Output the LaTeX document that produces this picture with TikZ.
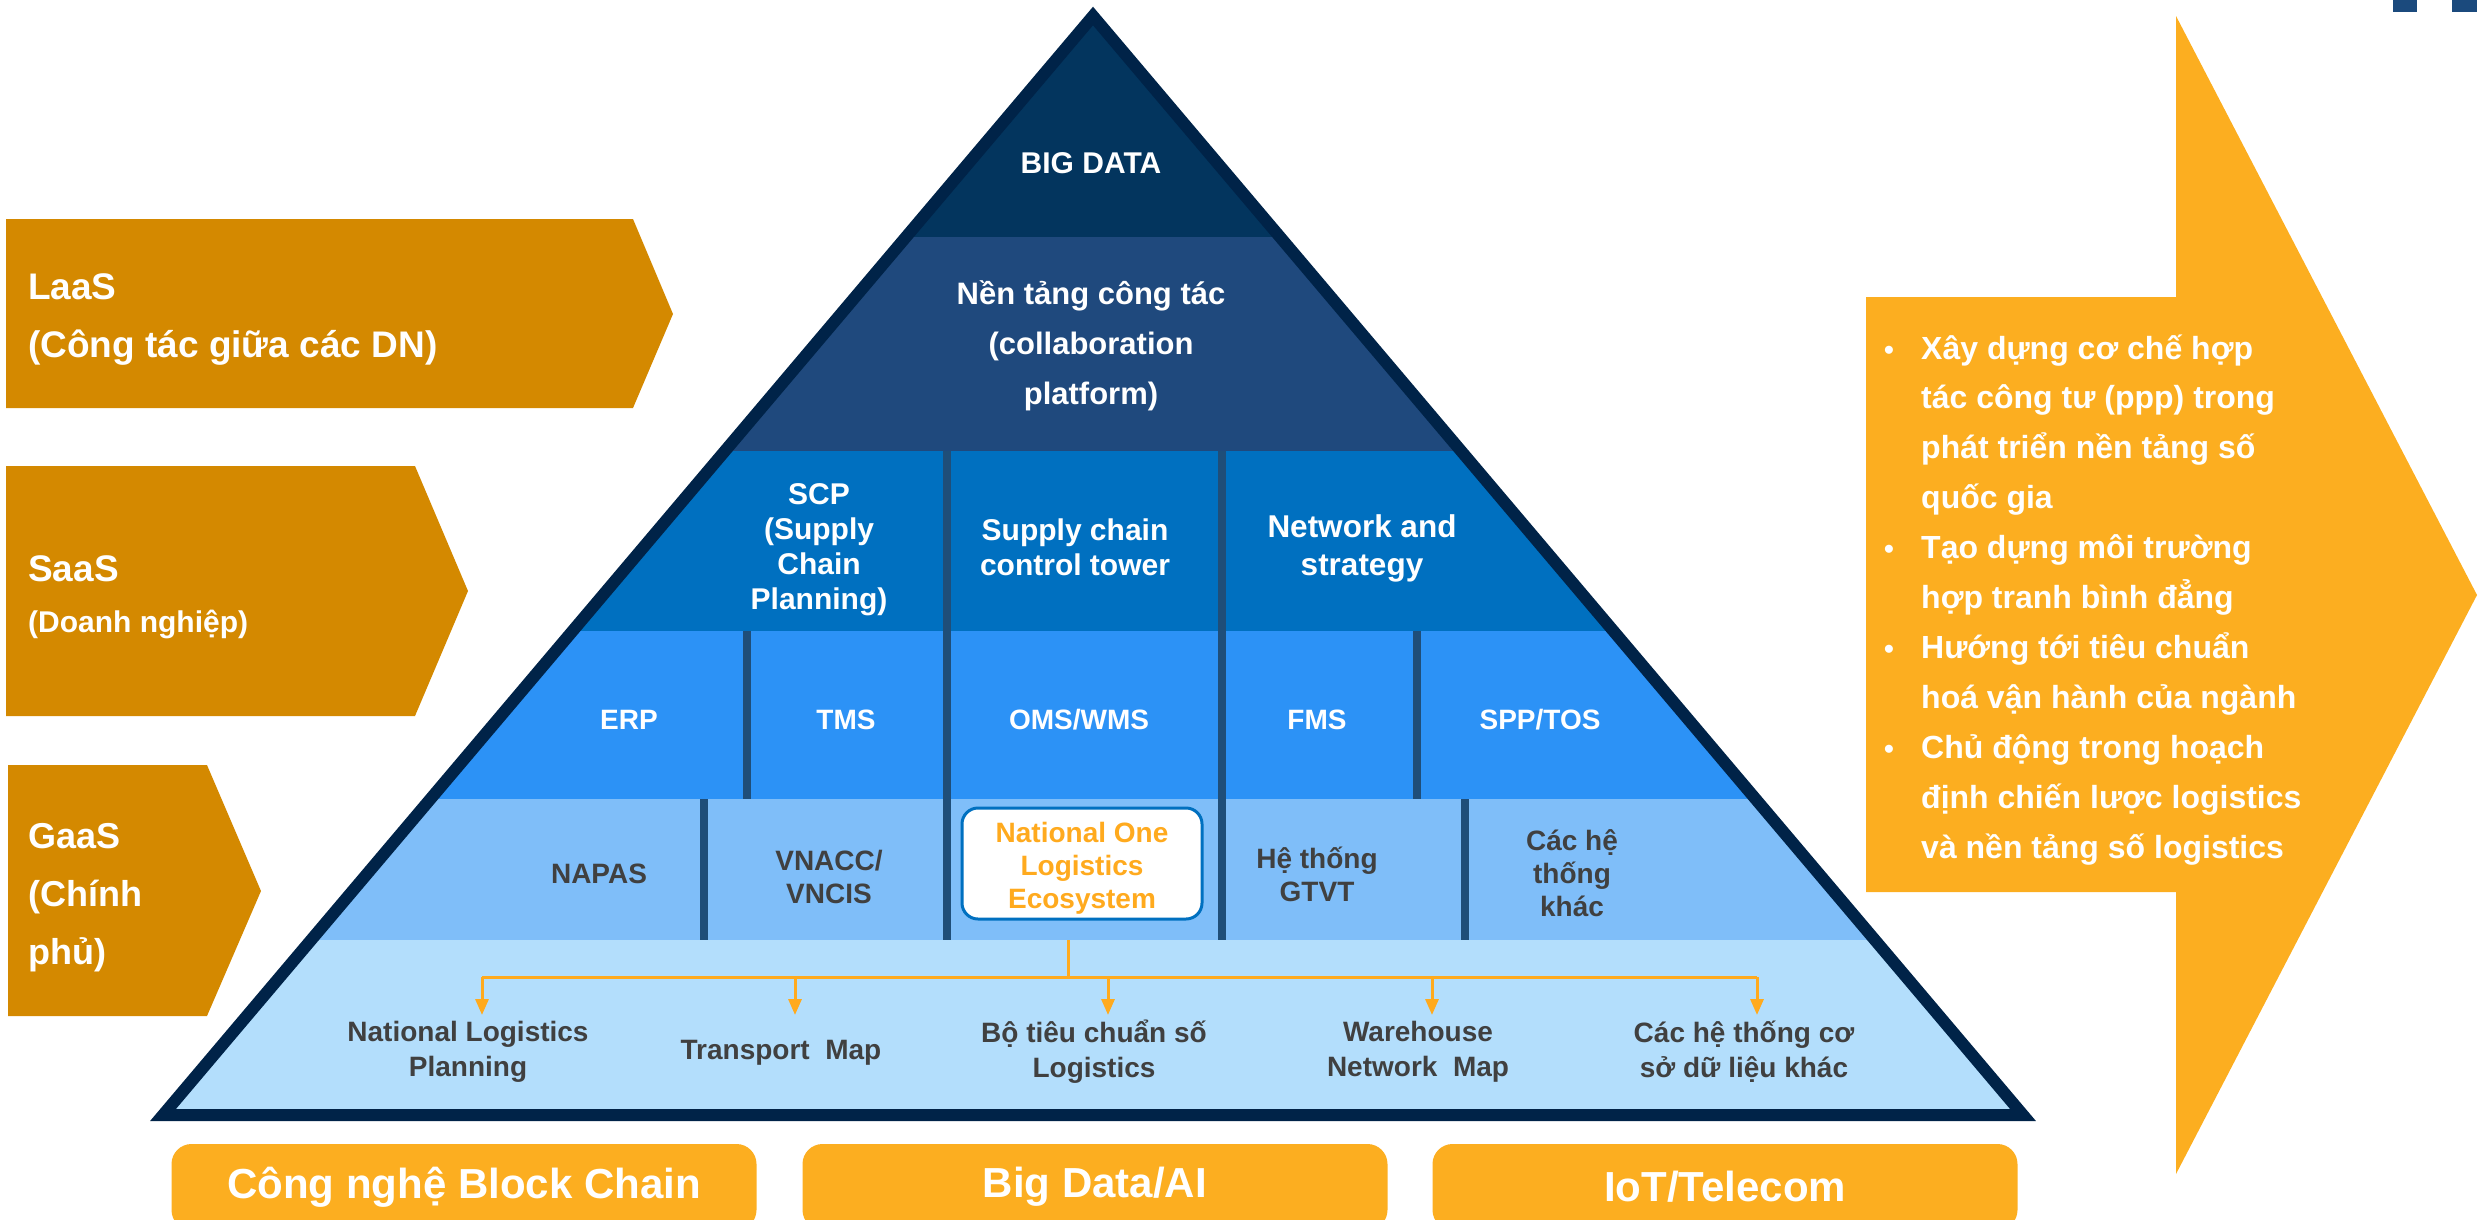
\documentclass[tikz,border=0pt]{standalone}
\usepackage{fontspec}
\setmainfont{Liberation Sans}
\usetikzlibrary{arrows.meta}
\definecolor{lvA}{RGB}{3,53,94}
\definecolor{lvB}{RGB}{31,73,125}
\definecolor{lvC}{RGB}{0,112,192}
\definecolor{lvD}{RGB}{44,146,246}
\definecolor{lvE}{RGB}{127,190,249}
\definecolor{lvF}{RGB}{179,222,252}
\definecolor{rim}{RGB}{0,35,72}
\definecolor{divc}{RGB}{31,78,121}
\definecolor{ochre}{RGB}{212,137,0}
\definecolor{amber}{RGB}{252,174,32}
\definecolor{amtext}{RGB}{255,170,30}
\definecolor{darktxt}{RGB}{64,64,64}
\definecolor{logoc}{RGB}{27,74,125}
\begin{document}
\begin{tikzpicture}[x=1pt,y=-1pt,
  every node/.style={inner sep=0pt},
  fs/.style 2 args={font=\bfseries\fontsize{#1}{#2}\selectfont},
  wl/.style={text=white,align=center},
  dl/.style={text=darktxt,align=center},
  divider/.style={draw=divc,line width=8pt},
  flow/.style={draw=amtext,line width=3pt},
  flowtip/.style={flow,-{Triangle[length=16pt,width=13pt]}},
  tagshape/.style={fill=ochre},
  tagtext/.style={text=white,anchor=base west},
  techbox/.style={fill=amber,rounded corners=20pt,minimum width=585pt,minimum height=86pt,text=white,fs={42}{50}},
  bullettext/.style={text=white,anchor=base west,fs={32}{40}},
]
\useasboundingbox (0,0) rectangle (2479,1219);
\clip (0,0) rectangle (2479,1219);

% logo fragments top right
\fill[logoc] (2393,0) rectangle (2417,12);
\fill[logoc] (2452,0) rectangle (2477,12);

% left tags
\fill[tagshape] (6,219) -- (633,219) -- (673,314) -- (633,408) -- (6,408) -- cycle;
\fill[tagshape] (6,466) -- (415,466) -- (468,591) -- (415,716) -- (6,716) -- cycle;
\fill[tagshape] (8,765) -- (207,765) -- (261,891) -- (207,1016) -- (8,1016) -- cycle;
\node[tagtext,fs={37}{44}] (laas1) at (28,299) {LaaS};
\node[tagtext,fs={37}{44}] (laas2) at (28,357) {(Công tác giữa các DN)};
\node[tagtext,fs={37}{44}] (saas1) at (28,581) {SaaS};
\node[tagtext,fs={30}{36}] (saas2) at (28,632) {(Doanh nghiệp)};
\node[tagtext,fs={36}{44}] (gaas1) at (28,848) {GaaS};
\node[tagtext,fs={36}{44}] (gaas2) at (28,906) {(Chính};
\node[tagtext,fs={36}{44}] (gaas3) at (28,964) {phủ)};

% pyramid
\coordinate (apex) at (1093,16);
\coordinate (bl) at (163,1115);
\coordinate (br) at (2023,1115);
\begin{scope}
  \clip (apex) -- (bl) -- (br) -- cycle;
  \fill[lvA] (0,0) rectangle (2479,237);
  \fill[lvB] (0,237) rectangle (2479,451);
  \fill[lvC] (0,451) rectangle (2479,631);
  \fill[lvD] (0,631) rectangle (2479,799);
  \fill[lvE] (0,799) rectangle (2479,940);
  \fill[lvF] (0,940) rectangle (2479,1200);
\end{scope}

% dividers
\draw[divider] (947,451) -- (947,940);
\draw[divider] (1222,451) -- (1222,940);
\draw[divider] (747,631) -- (747,799);
\draw[divider] (1417,631) -- (1417,799);
\draw[divider] (704,799) -- (704,940);
\draw[divider] (1465,799) -- (1465,940);

% connectors
\coordinate (stem) at (1068,940);
\coordinate (hub) at (1068,977);
\coordinate (h1) at (482,977);
\coordinate (h2) at (795,977);
\coordinate (h3) at (1108,977);
\coordinate (h4) at (1432,977);
\coordinate (h5) at (1757,977);
\coordinate (e1) at (482,1015);
\coordinate (e2) at (795,1015);
\coordinate (e3) at (1108,1015);
\coordinate (e4) at (1432,1015);
\coordinate (e5) at (1757,1015);
\draw[flow] (stem) -- (hub);
\draw[flow] (h1) -- (h5);
\foreach \k in {1,...,5} \draw[flowtip] (h\k) -- (e\k);

% border
\draw[rim,line width=12pt,line join=miter] (apex) -- (bl) -- (br) -- cycle;

% layer texts
\node[wl,fs={30}{36}] (bigdata) at (1091,163) {BIG DATA};
\node[wl,fs={31}{50}] (collab) at (1091,346) {Nền tảng công tác\\(collaboration\\platform)};
\node[wl,fs={30}{35}] (scp) at (819,550) {SCP\\(Supply\\Chain\\Planning)};
\node[wl,fs={30}{35}] (sctower) at (1075,547) {Supply chain\\control tower};
\node[wl,fs={31.5}{38}] (netstr) at (1362,548) {Network and\\strategy};

\node[wl,fs={28}{34}] (erp) at (629,720) {ERP};
\node[wl,fs={28}{34}] (tms) at (846,720) {TMS};
\node[wl,fs={28}{34}] (oms) at (1079,720) {OMS/WMS};
\node[wl,fs={28}{34}] (fms) at (1317,720) {FMS};
\node[wl,fs={28}{34}] (spp) at (1540,720) {SPP/TOS};

\node[dl,fs={28}{34}] (napas) at (599,874) {NAPAS};
\node[dl,fs={28}{33}] (vnacc) at (829,877) {VNACC/\\VNCIS};
\node[draw=lvC,line width=3pt,fill=white,rounded corners=16pt,minimum width=240pt,minimum height=111pt] (nole) at (1082,863.5) {};
\node[align=center,text=amtext,fs={28}{33}] (noletext) at (1082,868) {National One\\Logistics\\Ecosystem};
\node[dl,fs={28}{33}] (gtvt) at (1317,874) {Hệ thống\\GTVT};
\node[dl,fs={28}{33}] (khac) at (1572,873) {Các hệ\\thống\\khác};

\node[dl,fs={28}{35}] (nlp) at (468,1052) {National Logistics\\Planning};
\node[dl,fs={28}{35}] (tmap) at (781,1053) {Transport~~Map};
\node[dl,fs={28}{35}] (bts) at (1094,1052) {Bộ tiêu chuẩn số\\Logistics};
\node[dl,fs={28}{35}] (wnm) at (1418,1052) {Warehouse\\Network~~Map};
\node[dl,fs={28}{35}] (csdl) at (1744,1052) {Các hệ thống cơ\\sở dữ liệu khác};

% bottom technology boxes
\node[techbox] (blockchain) at (464,1187) {Công nghệ Block Chain};
\node[techbox] (bigai) at (1095,1187) {Big Data/AI};
\node[techbox] (iot) at (1725,1187) {IoT/Telecom};

% right arrow
\fill[amber] (2176,16) -- (2477,595) -- (2176,1174) -- (2176,892) -- (1866,892) -- (1866,297) -- (2176,297) -- cycle;
\foreach \txt [count=\i] in {Xây dựng cơ chế hợp, tác công tư (ppp) trong, phát triển nền tảng số, quốc gia, Tạo dựng môi trường, hợp tranh bình đẳng, Hướng tới tiêu chuẩn, hoá vận hành của ngành, Chủ động trong hoạch, định chiến lược logistics, và nền tảng số logistics}
  \node[bullettext] (r\i) at (1921,{359+49.9*(\i-1)}) {\txt};
\foreach \i in {1,5,7,9}
  \node[text=white,anchor=base,fs={28}{30}] (bu\i) at (1889,{359+49.9*(\i-1)}) {•};
\end{tikzpicture}
\end{document}
